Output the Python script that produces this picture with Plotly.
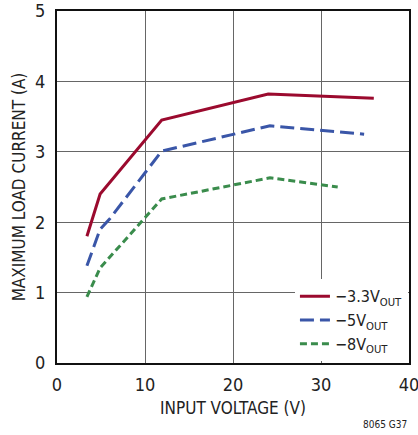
import plotly.graph_objects as go

x_33 = [3.4, 4.9, 11.9, 24.0, 36.0]
y_33 = [1.80, 2.40, 3.45, 3.82, 3.76]
x_5 = [3.4, 4.9, 6.0, 11.9, 24.2, 34.9]
y_5 = [1.38, 1.90, 2.05, 3.01, 3.37, 3.25]
x_8 = [3.4, 4.9, 11.9, 24.2, 31.9]
y_8 = [0.94, 1.35, 2.33, 2.63, 2.50]

font = "Liberation Sans Narrow, DejaVu Sans Condensed, Liberation Sans, sans-serif"

fig = go.Figure()
fig.add_trace(go.Scatter(x=x_33, y=y_33, mode="lines", name="\u22123.3V<sub>OUT</sub>",
                         line=dict(color="#9B0A2E", width=3)))
fig.add_trace(go.Scatter(x=x_5, y=y_5, mode="lines", name="\u22125V<sub>OUT</sub>",
                         line=dict(color="#3A56A8", width=3, dash="14px,6px")))
fig.add_trace(go.Scatter(x=x_8, y=y_8, mode="lines", name="\u22128V<sub>OUT</sub>",
                         line=dict(color="#3A8C4C", width=3, dash="7px,4px")))

fig.update_layout(
    width=424, height=435,
    margin=dict(l=57, r=15, t=11, b=72),
    paper_bgcolor="white", plot_bgcolor="white",
    font=dict(family=font, size=16, color="#222"),
    showlegend=True,
    legend=dict(x=0.997, y=0.005, xanchor="right", yanchor="bottom", bgcolor="white",
                font=dict(size=16, family=font), tracegroupgap=0, itemwidth=30,
                borderwidth=0),
    xaxis=dict(range=[0, 40], tickvals=[0, 10, 20, 30, 40], showgrid=True,
               gridcolor="#666", gridwidth=1, showline=True, linecolor="#111",
               linewidth=2, mirror=True, ticks="", zeroline=False, automargin=False,
               ticklabelstandoff=4,
               title=dict(text="INPUT VOLTAGE (V)", font=dict(size=17), standoff=9),
               tickfont=dict(size=18)),
    yaxis=dict(range=[0, 5], tickvals=[0, 1, 2, 3, 4, 5], showgrid=True,
               gridcolor="#666", gridwidth=1, showline=True, linecolor="#111",
               linewidth=2, mirror=True, ticks="", zeroline=False, automargin=False,
               ticklabelstandoff=6,
               title=dict(text="MAXIMUM LOAD CURRENT (A)", font=dict(size=17), standoff=5),
               tickfont=dict(size=18)),
)
fig.add_annotation(text="8065 G37", x=(385 - 57) / 352, y=-0.176, xref="paper", yref="paper",
                   xanchor="center", yanchor="middle", showarrow=False,
                   font=dict(size=10, family=font, color="#222"))

fig.write_html("out.html", config={"displayModeBar": False},
               post_script="document.body.style.margin='0';document.body.style.overflow='hidden';")
